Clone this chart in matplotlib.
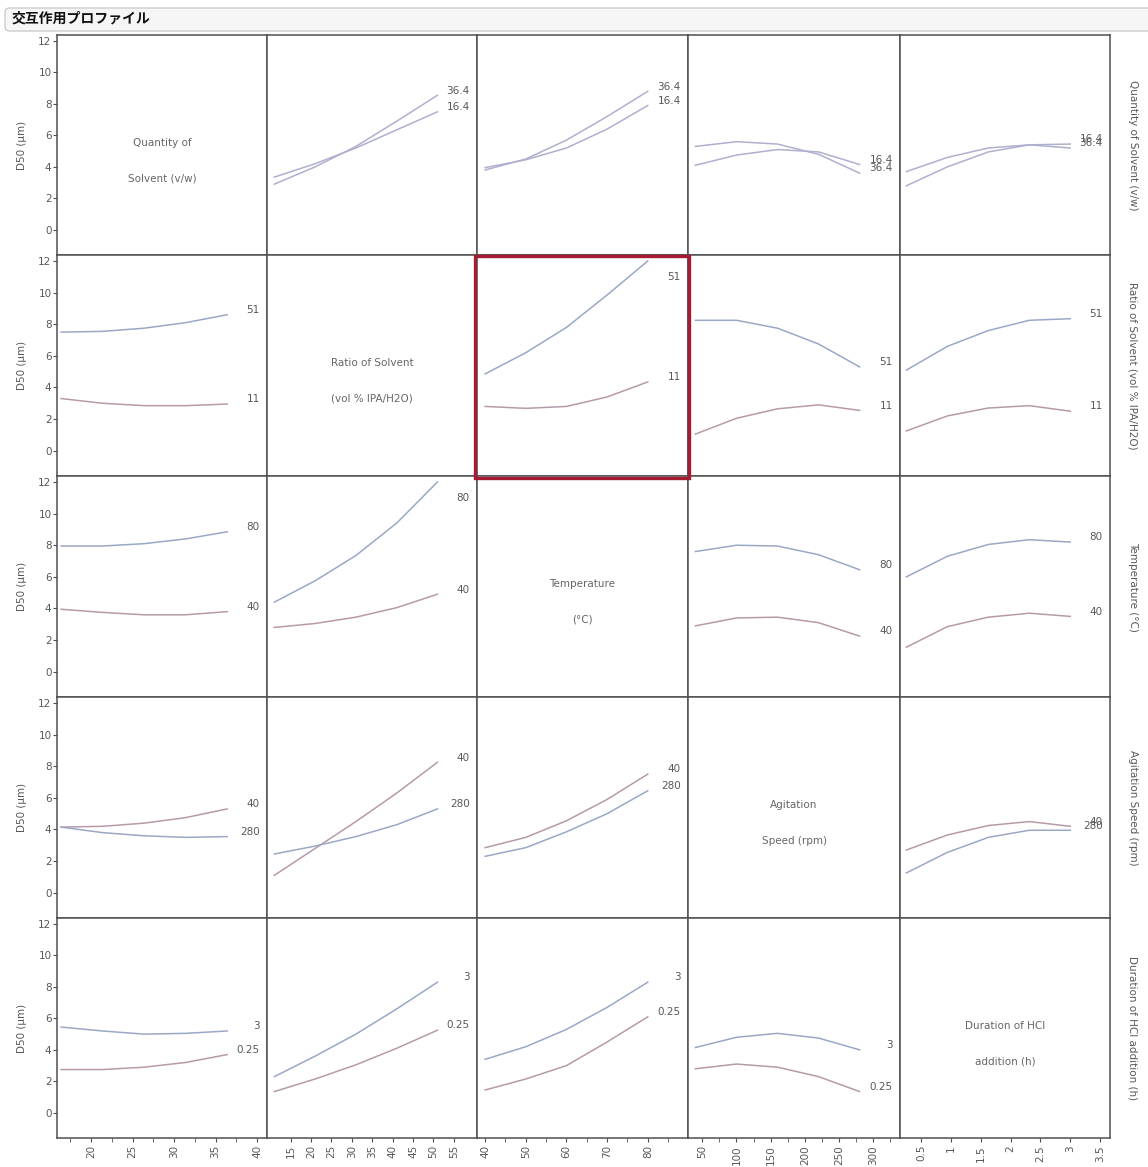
import matplotlib
matplotlib.use("Agg")
import matplotlib.pyplot as plt
from matplotlib.patches import Rectangle, FancyBboxPatch
from matplotlib.ticker import MultipleLocator

# factors (rows / columns of the matrix)
factor_names = ["Quantity of Solvent (v/w)", "Ratio of Solvent (vol % IPA/H2O)",
                "Temperature (°C)", "Agitation Speed (rpm)", "Duration of HCl addition (h)"]
diag_text = [("Quantity of", "Solvent (v/w)"), ("Ratio of Solvent", "(vol % IPA/H2O)"),
             ("Temperature", "(°C)"), ("Agitation", "Speed (rpm)"), ("Duration of HCl", "addition (h)")]
level_labels = [("16.4", "36.4"), ("11", "51"), ("40", "80"), ("40", "280"), ("0.25", "3")]

# x positions where the curves were read, per factor
x_quantity = [16.4, 21.4, 26.4, 31.4, 36.4]
x_ratio = [11, 21, 31, 41, 51]
x_temp = [40, 50, 60, 70, 80]
x_agit = [40, 100, 160, 220, 280]
x_dur = [0.25, 0.9375, 1.625, 2.3125, 3.0]
x_grid = [x_quantity, x_ratio, x_temp, x_agit, x_dur]

# D50 curves: for each row factor, low / high level, one curve per other column (left to right)
qty_lo = [[3.35, 4.2, 5.2, 6.35, 7.5], [3.95, 4.45, 5.2, 6.4, 7.9],
          [4.1, 4.75, 5.1, 4.95, 4.15], [2.8, 4.0, 4.95, 5.4, 5.45]]
qty_hi = [[2.9, 4.0, 5.3, 6.9, 8.55], [3.8, 4.5, 5.7, 7.2, 8.8],
          [5.3, 5.6, 5.45, 4.8, 3.6], [3.7, 4.6, 5.2, 5.4, 5.2]]
ratio_lo = [[3.3, 3.0, 2.85, 2.85, 2.95], [2.8, 2.68, 2.8, 3.4, 4.35],
            [1.05, 2.05, 2.65, 2.9, 2.55], [1.25, 2.2, 2.7, 2.85, 2.5]]
ratio_hi = [[7.5, 7.55, 7.75, 8.1, 8.6], [4.86, 6.2, 7.8, 9.85, 12.0],
            [8.25, 8.25, 7.75, 6.75, 5.3], [5.1, 6.6, 7.6, 8.25, 8.35]]
temp_lo = [[3.95, 3.75, 3.6, 3.6, 3.8], [2.8, 3.05, 3.45, 4.05, 4.9],
           [2.9, 3.4, 3.45, 3.1, 2.25], [1.55, 2.85, 3.45, 3.7, 3.5]]
temp_hi = [[7.95, 7.95, 8.1, 8.4, 8.85], [4.4, 5.75, 7.35, 9.4, 12.0],
           [7.6, 8.0, 7.95, 7.4, 6.45], [6.0, 7.3, 8.05, 8.35, 8.2]]
agit_lo = [[4.15, 4.2, 4.4, 4.75, 5.3], [1.1, 2.8, 4.5, 6.3, 8.25],
           [2.85, 3.5, 4.55, 5.9, 7.5], [2.7, 3.65, 4.25, 4.5, 4.2]]
agit_hi = [[4.15, 3.8, 3.6, 3.5, 3.55], [2.45, 2.95, 3.55, 4.3, 5.3],
           [2.3, 2.85, 3.85, 5.0, 6.45], [1.25, 2.55, 3.5, 3.95, 3.95]]
dur_lo = [[2.75, 2.75, 2.9, 3.2, 3.7], [1.35, 2.15, 3.05, 4.1, 5.25],
          [1.45, 2.15, 3.0, 4.5, 6.1], [2.8, 3.1, 2.9, 2.3, 1.35]]
dur_hi = [[5.45, 5.2, 5.0, 5.05, 5.2], [2.3, 3.6, 5.0, 6.6, 8.3],
          [3.4, 4.2, 5.3, 6.7, 8.3], [4.15, 4.8, 5.05, 4.75, 4.0]]
rows_lo = [qty_lo, ratio_lo, temp_lo, agit_lo, dur_lo]
rows_hi = [qty_hi, ratio_hi, temp_hi, agit_hi, dur_hi]

# axis setup
x_limits = [(15.9, 41.2), (9.2, 60.7), (38.0, 89.9), (29.2, 339), (0.143, 3.667)]
x_major = [[20, 25, 30, 35, 40], [15, 20, 25, 30, 35, 40, 45, 50, 55], [40, 50, 60, 70, 80],
           [50, 100, 150, 200, 250, 300], [0.5, 1, 1.5, 2, 2.5, 3, 3.5]]
x_ticklabels = [["20", "25", "30", "35", "40"], ["15", "20", "25", "30", "35", "40", "45", "50", "55"],
                ["40", "50", "60", "70", "80"], ["50", "100", "150", "200", "250", "300"],
                ["0.5", "1", "1.5", "2", "2.5", "3", "3.5"]]
x_minor = [2.5, None, 5, 25, None]
y_ticks = [0, 2, 4, 6, 8, 10, 12]

W, H = 1148, 1167
col_edges = [57, 267, 477, 688, 900, 1110]
row_edges = [35, 255, 476, 697, 918, 1138]

lo_color = "#b69aa9"
hi_color = "#9aa8c6"
lav = "#afafcf"
txt = "#585858"
spine = "#505050"

fig = plt.figure(figsize=(W / 100, H / 100), dpi=100)
fig.patch.set_facecolor("white")

# header bar
fig.add_artist(FancyBboxPatch((5 / W, 1 - 31 / H), 1160 / W, 23 / H,
                              boxstyle="round,pad=0,rounding_size=0.004",
                              transform=fig.transFigure, fc="#f6f6f6", ec="#cdcdcd", lw=1))
fig.text(12 / W, 1 - 19 / H, "交互作用プロファイル", fontsize=10, fontweight="bold",
         family=["Noto Sans CJK JP", "DejaVu Sans"], va="center", ha="left", color="#111111")

for r in range(5):
    for c in range(5):
        x0, x1 = col_edges[c], col_edges[c + 1]
        y0, y1 = row_edges[r], row_edges[r + 1]
        ax = fig.add_axes([x0 / W, 1 - y1 / H, (x1 - x0) / W, (y1 - y0) / H])
        ax.set_xlim(*x_limits[c])
        ax.set_ylim(-1.6, 12.38)
        for s in ax.spines.values():
            s.set_color(spine)
            s.set_linewidth(1.1)

        if r == c:
            ax.text(0.5, 0.51, diag_text[r][0], transform=ax.transAxes, ha="center",
                    va="center", fontsize=7.5, color="#666666")
            ax.text(0.5, 0.35, diag_text[r][1], transform=ax.transAxes, ha="center",
                    va="center", fontsize=7.5, color="#666666")
        else:
            k = c if c < r else c - 1
            lo = rows_lo[r][k]
            hi = rows_hi[r][k]
            clo = lav if r == 0 else lo_color
            chi = lav if r == 0 else hi_color
            ax.plot(x_grid[c], lo, color=clo, lw=1.1)
            ax.plot(x_grid[c], hi, color=chi, lw=1.1)
            # level labels sit at the right edge, next to the line ends
            for vals, lab in ((lo, level_labels[r][0]), (hi, level_labels[r][1])):
                ax.text(0.965, min(vals[-1] + 0.3, 11.0), lab, transform=ax.get_yaxis_transform(),
                        ha="right", va="center", fontsize=7.5, color=txt)

        if c == 0:
            ax.set_yticks(y_ticks)
            ax.set_yticklabels([str(v) for v in y_ticks])
            ax.tick_params(axis="y", length=3, color=spine, labelsize=7.5, labelcolor=txt, pad=1)
        else:
            ax.set_yticks([])
        if r == 4:
            ax.set_xticks(x_major[c])
            ax.set_xticklabels(x_ticklabels[c], rotation=90)
            if x_minor[c]:
                ax.xaxis.set_minor_locator(MultipleLocator(x_minor[c]))
            ax.tick_params(axis="x", which="both", length=3, color=spine, labelsize=7.5,
                           labelcolor=txt, pad=2)
        else:
            ax.set_xticks([])

    # row labels
    yc = 1 - (row_edges[r] + row_edges[r + 1]) / 2 / H
    fig.text(22 / W, yc, "D50 (µm)", rotation=90, ha="center", va="center", fontsize=7.5, color=txt)
    fig.text(1133 / W, yc, factor_names[r], rotation=270, ha="center", va="center",
             fontsize=7.5, color=txt)

# highlighted cell
fig.add_artist(Rectangle((475 / W, 1 - 478 / H), 214 / W, 222 / H, transform=fig.transFigure,
                         fill=False, ec="#a51c32", lw=2.4))

fig.savefig("out.png", dpi=100, facecolor="white")
